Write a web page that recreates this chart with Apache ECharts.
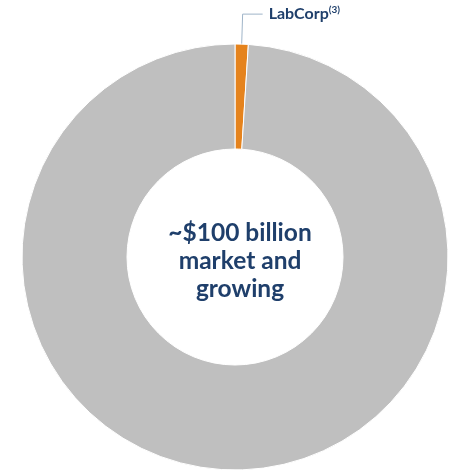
<!DOCTYPE html>
<html>
<head>
<meta charset="utf-8">
<script src="https://cdn.jsdelivr.net/npm/echarts@6/dist/echarts.min.js"></script>
<style>html,body{margin:0;padding:0;background:#fff;}#c{width:453px;height:474px;}</style>
</head>
<body>
<div id="c"></div>
<script>
const categories = ['LabCorp', 'Rest of market'];
const shareValues = [1.0, 99.0];
const labelTexts = ['LabCorp', ''];
const labelSup = ['(3)', ''];
const centerLines = ['~$100 billion', 'market and', 'growing'];
const colors = ['#E5831D', '#BFBFBF'];

const chart = echarts.init(document.getElementById('c'));
chart.setOption({
  animation: false,
  title: {
    text: centerLines.join('\n'),
    left: 235, top: 256,
    textAlign: 'center', textVerticalAlign: 'middle',
    textStyle: { fontFamily: 'Lato', fontWeight: 'bold', fontSize: 24.5, lineHeight: 28, color: '#1F3F6B' }
  },
  series: [{
    type: 'pie',
    center: [235, 257],
    radius: [108, 213],
    startAngle: 90,
    clockwise: true,
    itemStyle: { borderColor: '#fff', borderWidth: 1 },
    data: categories.map((c, i) => ({
      name: c, value: shareValues[i],
      itemStyle: { color: colors[i] },
      label: { show: labelTexts[i] !== '' },
      labelLine: { show: labelTexts[i] !== '' }
    })),
    label: {
      position: 'outside',
      formatter: p => labelTexts[p.dataIndex] ? '{a|' + labelTexts[p.dataIndex] + '}{b|' + labelSup[p.dataIndex] + '}' : '',
      rich: {
        a: { fontFamily: 'Lato', fontWeight: 'bold', fontSize: 16, color: '#1F3F6B' },
        b: { fontFamily: 'Lato', fontWeight: 'bold', fontSize: 10, color: '#1F3F6B', padding: [0, 0, 8, 0] }
      },
      distanceToLabelLine: 6
    },
    labelLine: {
      length: 30, length2: 20,
      lineStyle: { color: '#9FB4C8', width: 1 }
    }
  }]
});
</script>
</body>
</html>
